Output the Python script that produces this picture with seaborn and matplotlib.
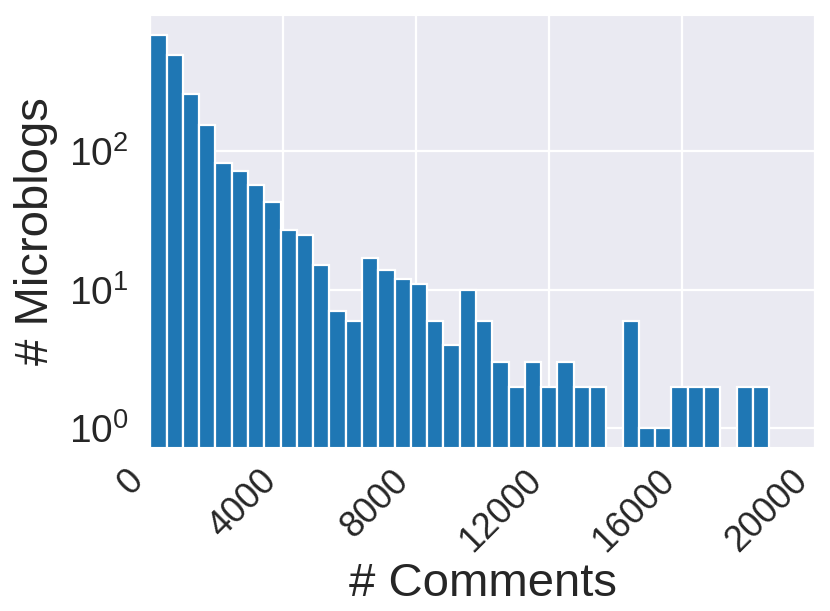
import numpy as np
import pandas as pd
import matplotlib
matplotlib.use('Agg')
import matplotlib.pyplot as plt
import seaborn as sns

# 댓글 수 히스토그램 (bin 폭 490, 0부터 시작)
bin_width = 490
counts = [695, 499, 261, 156, 83, 72, 57, 43, 27, 25,
          15, 7, 6, 17, 14, 12, 11, 6, 4, 10,
          6, 3, 2, 3, 2, 3, 2, 2, 0, 6,
          1, 1, 2, 2, 2, 0, 2, 2]
xticks = [0, 4000, 8000, 12000, 16000, 20000]

n_bins = len(counts)
df = pd.DataFrame({'comments': (np.arange(n_bins) + 0.5) * bin_width,
                   'count': counts})

sns.set_style('darkgrid', {'grid.linewidth': 1.6})
plt.rcParams['font.family'] = ['Liberation Sans', 'DejaVu Sans']
plt.rcParams['grid.linewidth'] = 1.6

fig, ax = plt.subplots(figsize=(8.3, 6.11), dpi=100)
fig.subplots_adjust(left=0.181, right=0.982, top=0.975, bottom=0.268)

sns.histplot(data=df, x='comments', weights='count', binwidth=bin_width,
             binrange=(0, n_bins * bin_width), color='#1f77b4',
             alpha=1, edgecolor='white', linewidth=1.6, ax=ax)
ax.set_yscale('log')

ax.set_xlim(0, 20000)
ax.set_ylim(0.73, 960)
ax.set_xticks(xticks)
ax.set_xticklabels([str(t) for t in xticks], rotation=45, ha='right')
ax.tick_params(axis='x', labelsize=26, pad=8)
ax.tick_params(axis='y', labelsize=28, pad=12)
ax.set_xlabel('# Comments', fontsize=34, labelpad=2)
ax.set_ylabel('# Microblogs', fontsize=34, labelpad=8)

plt.savefig('out.png', dpi=100)
